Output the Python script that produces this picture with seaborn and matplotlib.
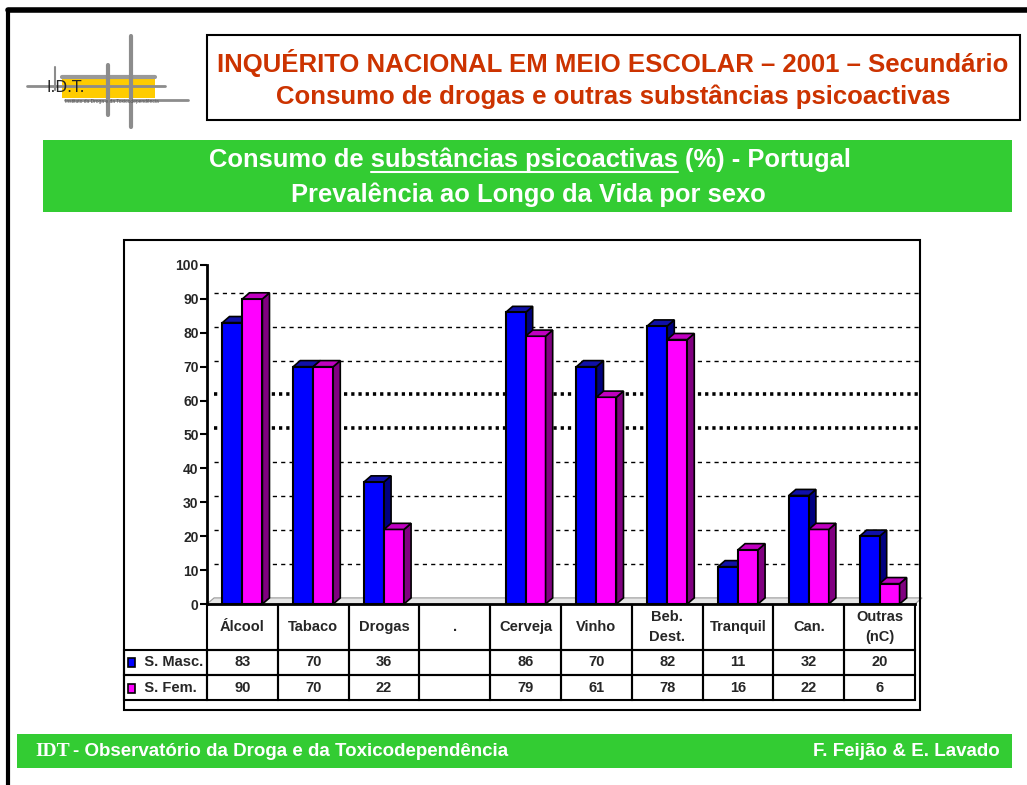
import numpy as np
import pandas as pd
import matplotlib
matplotlib.use('Agg')
import matplotlib.pyplot as plt
import seaborn as sns
from matplotlib.patches import Rectangle, Polygon
from matplotlib.lines import Line2D
from matplotlib.table import Table

# data
categories = ['Álcool', 'Tabaco', 'Drogas', '.', 'Cerveja', 'Vinho',
              'Beb.\nDest.', 'Tranquil', 'Can.', 'Outras\n(nC)']
series = ['S. Masc.', 'S. Fem.']
masc = [83, 70, 36, None, 86, 70, 82, 11, 32, 20]
fem = [90, 70, 22, None, 79, 61, 78, 16, 22, 6]
yticks = list(range(0, 101, 10))

front = {'S. Masc.': '#0000ff', 'S. Fem.': '#ff00ff'}
side = {'S. Masc.': '#000080', 'S. Fem.': '#800080'}
top = {'S. Masc.': '#1010a8', 'S. Fem.': '#c000c0'}

df = pd.DataFrame({
    'cat': categories * 2,
    'sex': [series[0]] * len(categories) + [series[1]] * len(categories),
    'value': masc + fem,
}).dropna()

sns.set_style('white')
plt.rcParams['font.family'] = ['Liberation Sans', 'DejaVu Sans']

W, H = 1027, 785
fig = plt.figure(figsize=(W / 100, H / 100), dpi=100)


def fx(x):
    return x / W


def fy(y):
    return 1 - y / H


def box(x0, y0, x1, y1, **kw):
    fig.add_artist(Rectangle((fx(x0), fy(y1)), fx(x1) - fx(x0), fy(y0) - fy(y1),
                             transform=fig.transFigure, **kw))


def line(xs, ys, **kw):
    fig.add_artist(Line2D([fx(v) for v in xs], [fy(v) for v in ys],
                          transform=fig.transFigure, **kw))


# slide frame
line([8, 1027], [10, 10], color='black', lw=4)
line([8, 8], [10, 785], color='black', lw=3)

# logo
box(62, 75, 155, 98, facecolor='#ffcc00', edgecolor='none')
line([62, 155], [77, 77], color='#999999', lw=3, solid_capstyle='round')
line([27, 165], [86, 86], color='#8c8c8c', lw=2)
line([65, 188], [100, 100], color='#8c8c8c', lw=2)
line([108, 108], [65, 115], color='#8c8c8c', lw=3)
line([131, 131], [36, 127], color='#8c8c8c', lw=3)
line([55, 55], [67, 90], color='#8c8c8c', lw=1.5)
fig.text(fx(46), fy(87), 'I.D.T.', fontsize=11, color='#222222', va='center',
         family=['DejaVu Sans'])
fig.text(fx(65), fy(102), 'Instituto da Droga e da Toxicodependência', fontsize=3.5,
         color='#555555', va='center')

# title box
box(207, 35, 1020, 120, facecolor='none', edgecolor='black', lw=1.5)
red = '#cc3300'
fig.text(fx(613), fy(63), 'INQUÉRITO NACIONAL EM MEIO ESCOLAR – 2001 – Secundário',
         ha='center', va='center', fontsize=18.5, fontweight='bold', color=red)
fig.text(fx(613), fy(97), 'Consumo de drogas e outras substâncias psicoactivas',
         ha='center', va='center', fontsize=18.5, fontweight='bold', color=red)

# green subtitle band
box(43, 140, 1012, 212, facecolor='#33cc33', edgecolor='none')
band_fs = 18.4
l1 = 'Consumo de substâncias psicoactivas (%) - Portugal'
fig.text(fx(530), fy(160), l1, ha='center', va='center', fontsize=band_fs,
         fontweight='bold', color='white')
fig.text(fx(528), fy(195), 'Prevalência ao Longo da Vida por sexo', ha='center',
         va='center', fontsize=band_fs, fontweight='bold', color='white')
r = fig.canvas.get_renderer()


def textw(s):
    t = fig.text(0, 0, s, fontsize=band_fs, fontweight='bold')
    w = t.get_window_extent(r).width
    t.remove()
    return w


full_w = textw(l1)
start = 530 - full_w / 2
u_end = start + textw('Consumo de substâncias psicoactivas')
u_start = u_end - textw('substâncias psicoactivas')
line([u_start, u_end], [172, 172], color='white', lw=1.5)

# footer band
box(17, 734, 1012, 768, facecolor='#33cc33', edgecolor='none')
tf = fig.text(fx(35), fy(751), 'IDT', ha='left', va='center', fontsize=14,
              fontweight='bold', color='white', family=['Liberation Serif'])
iw = tf.get_window_extent(r).width
fig.text(fx(35 + iw + 3), fy(751), '- Observatório da Droga e da Toxicodependência',
         ha='left', va='center', fontsize=13.5, fontweight='bold', color='white')
fig.text(fx(1000), fy(751), 'F. Feijão & E. Lavado', ha='right', va='center',
         fontsize=13.5, fontweight='bold', color='white')

# chart frame
box(124, 240, 920, 710, facecolor='none', edgecolor='black', lw=1.5)

# axes
ax = fig.add_axes([fx(207), fy(604), fx(915) - fx(207), fy(265) - fy(604)])
ax.set_facecolor('none')
sns.barplot(data=df, x='cat', y='value', hue='sex', order=categories,
            hue_order=series, palette=front, saturation=1, width=0.565,
            edgecolor='black', linewidth=1.5, legend=False, ax=ax, zorder=2)
ax.set_xlim(-0.5, 9.5)
ax.set_ylim(0, 100)

dx, dy = 0.1, 1.8
# floor
ax.add_patch(Polygon([(-0.5, 0), (-0.5 + dx, dy), (9.5 + dx, dy), (9.5, 0)],
                     closed=True, facecolor='#e6e6e6', edgecolor='#999999',
                     lw=0.8, zorder=0.8, clip_on=False))
# back-wall gridlines
for v in yticks[1:-1]:
    if v in (50, 60):
        ax.hlines(v + dy, -0.5 + dx, 9.55, color='black', lw=2.6,
                  linestyle=(0, (0.9, 1.1)), zorder=0.5, clip_on=False)
    else:
        ax.hlines(v + dy, -0.5 + dx, 9.55, color='black', lw=1,
                  linestyle=(0, (3, 3)), zorder=0.5, clip_on=False)

# 3D faces on each bar
for p in list(ax.patches):
    if not isinstance(p, Rectangle) or p.get_zorder() < 1:
        continue
    h = p.get_height()
    if not np.isfinite(h) or h <= 0:
        continue
    key = series[0] if np.allclose(p.get_facecolor()[:3], (0, 0, 1)) else series[1]
    x, w = p.get_x(), p.get_width()
    z = 1 if key == series[0] else 2.5
    ax.add_patch(Polygon([(x + w, 0), (x + w + dx, dy), (x + w + dx, h + dy), (x + w, h)],
                         closed=True, facecolor=side[key], edgecolor='black',
                         lw=1.2, zorder=z))
    ax.add_patch(Polygon([(x, h), (x + dx, h + dy), (x + w + dx, h + dy), (x + w, h)],
                         closed=True, facecolor=top[key], edgecolor='black',
                         lw=1.2, zorder=z))

sns.despine(ax=ax, top=True, right=True)
for s in ('left', 'bottom'):
    ax.spines[s].set_linewidth(2)
    ax.spines[s].set_color('black')
ax.set_yticks(yticks)
ax.set_yticklabels([str(v) for v in yticks], fontweight='bold', fontsize=10)
ax.tick_params(axis='y', length=5, width=1.5, pad=1, color='black', direction='out', left=True)
ax.set_xticks([])
ax.set_xlabel('')
ax.set_ylabel('')

# data table under the axes
ah = 604 - 265
aw = 915 - 207
tbl = Table(ax, bbox=[(124 - 207) / aw, -(700 - 604) / ah, (915 - 124) / aw, (700 - 604) / ah])
rows = [[''] + categories,
        ['   ' + series[0]] + ['' if v is None else str(v) for v in masc],
        ['   ' + series[1]] + ['' if v is None else str(v) for v in fem]]
heights = [46, 25, 25]
for ri, row in enumerate(rows):
    for ci, txt in enumerate(row):
        cw = 83 if ci == 0 else 70.8
        c = tbl.add_cell(ri, ci, width=cw, height=heights[ri], text=txt,
                         loc='left' if ci == 0 else 'center', facecolor='none',
                         edgecolor='black')
        c.set_linewidth(1.5)
        c.get_text().set_fontweight('bold')
        if ri == 0:
            c.get_text().set_linespacing(1.5)
        if ri == 0 and ci == 0:
            c.visible_edges = 'open'
tbl.auto_set_font_size(False)
tbl.set_fontsize(10.5)
ax.add_table(tbl)

# legend keys inside the row labels
for yk, key in ((663, series[0]), (689, series[1])):
    box(128, yk - 5, 135, yk + 4, facecolor=front[key], edgecolor='black', lw=1.2)

plt.savefig('out.png', dpi=100)
plt.close()
